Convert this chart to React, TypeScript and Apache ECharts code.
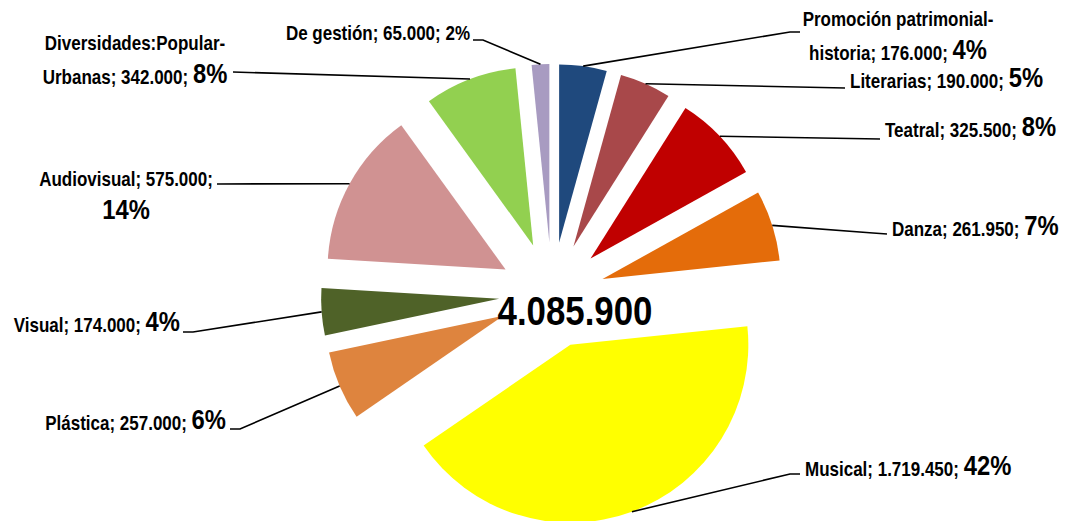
import React, { useEffect, useRef } from 'react';
import * as echarts from 'echarts';

// ---------- data ----------
const categories = [
  'Promoción patrimonial-historia',
  'Literarias',
  'Teatral',
  'Danza',
  'Musical',
  'Plástica',
  'Visual',
  'Audiovisual',
  'Diversidades:Popular-Urbanas',
  'De gestión',
];
const values = [176000, 190000, 325500, 261950, 1719450, 257000, 174000, 575000, 342000, 65000];
const percentLabels = ['4%', '5%', '8%', '7%', '42%', '6%', '4%', '14%', '8%', '2%'];
const colors = ['#1F497D', '#A8484A', '#C00000', '#E46C0A', '#FFFF00', '#DE843E', '#4F6228', '#D09292', '#92D050', '#A89BC1'];

// ---------- layout ----------
const CX = 552;
const CY = 295;
const R = 178;
const OFFSET = 53;
const FONT = "'Liberation Sans', Arial, sans-serif";
const NARROW = 0.85;

type Anchor = {
  x: number; y: number; align: 'left' | 'right' | 'center';
  elbow: [number, number]; end: [number, number];
  pctNewLine?: boolean; pctSmall?: boolean;
};
const anchors: Anchor[] = [
  { x: 898, y: 32, align: 'center', elbow: [790, 32], end: [800, 32] },
  { x: 850, y: 74, align: 'left', elbow: [845, 88], end: [845, 88] },
  { x: 885, y: 123, align: 'left', elbow: [880, 139], end: [880, 139] },
  { x: 892, y: 222, align: 'left', elbow: [873, 233], end: [887, 234] },
  { x: 805, y: 462, align: 'left', elbow: [790, 474], end: [800, 474] },
  { x: 226, y: 416, align: 'right', elbow: [240, 429], end: [230, 429] },
  { x: 180, y: 318, align: 'right', elbow: [193, 332], end: [183, 332] },
  { x: 126, y: 192, align: 'center', elbow: [217, 184], end: [217, 184], pctNewLine: true },
  { x: 135, y: 56, align: 'center', elbow: [233, 72], end: [233, 72] },
  { x: 470, y: 29, align: 'right', elbow: [483, 40], end: [473, 40], pctSmall: true },
];

const fmt = (n: number) => n.toString().replace(/\B(?=(\d{3})+(?!\d))/g, '.');

const rich = {
  a: { fontSize: 20, fontWeight: 'bold', fontFamily: FONT, fill: '#000', lineHeight: 28, verticalAlign: 'bottom' },
  b: { fontSize: 28, fontWeight: 'bold', fontFamily: FONT, fill: '#000', lineHeight: 34, verticalAlign: 'bottom' },
};

function labelText(i: number) {
  const a = anchors[i];
  const name = categories[i];
  const num = fmt(values[i]);
  const pct = percentLabels[i];
  const big = a.pctSmall ? 'a' : 'b';
  let head = '';
  let last = name;
  const k = name.indexOf('-');
  if (k >= 0) {
    head = `{a|${name.slice(0, k + 1)}}\n`;
    last = name.slice(k + 1);
  }
  if (a.pctNewLine) return `${head}{a|${last}; ${num};}\n{${big}|${pct}}`;
  return `${head}{a|${last}; ${num}; }{${big}|${pct}}`;
}

export default function App() {
  const ref = useRef<HTMLDivElement>(null);

  useEffect(() => {
    if (!ref.current) return;
    const chart = echarts.init(ref.current, undefined, { renderer: 'svg' });
    const total = values.reduce((a, b) => a + b, 0);
    let acc = 0;
    const mids = values.map((v) => {
      const m = ((acc + v / 2) / total) * 2 * Math.PI;
      acc += v;
      return m;
    });

    const labelEls: any[] = [];
    categories.forEach((_, i) => {
      const a = anchors[i];
      const m = mids[i];
      const s = [CX + (R + OFFSET) * Math.sin(m), CY - (R + OFFSET) * Math.cos(m)];
      labelEls.push({
        type: 'polyline',
        z: 50,
        shape: { points: [s, a.elbow, a.end] },
        style: { stroke: '#000', lineWidth: 1.6, fill: null },
      });
      labelEls.push({
        type: 'text',
        x: a.x,
        y: a.y,
        scaleX: NARROW,
        z: 60,
        style: {
          text: labelText(i),
          rich,
          align: a.align,
          verticalAlign: 'middle',
          fontFamily: FONT,
          fontWeight: 'bold',
          fill: '#000',
        },
      });
    });

    chart.setOption({
      animation: false,
      backgroundColor: '#ffffff',
      graphic: [
        ...labelEls,
        {
          type: 'text',
          x: 575,
          y: 311,
          z: 100,
          scaleX: NARROW,
          style: {
            text: fmt(total),
            fontSize: 41,
            fontWeight: 'bold',
            fontFamily: FONT,
            fill: '#000',
            align: 'center',
            verticalAlign: 'middle',
          },
        },
      ],
      series: [
        {
          type: 'pie',
          center: [CX, CY],
          radius: R,
          startAngle: 90,
          clockwise: true,
          selectedMode: 'multiple',
          selectedOffset: OFFSET,
          silent: true,
          emphasis: { disabled: true },
          label: { show: false },
          labelLine: { show: false },
          data: categories.map((n, i) => ({
            name: n,
            value: values[i],
            selected: true,
            itemStyle: { color: colors[i] },
          })),
        },
      ],
    });
    return () => chart.dispose();
  }, []);

  return (
    <div
      ref={ref}
      style={{ position: 'fixed', left: 0, top: 0, width: 1084, height: 521, background: '#fff' }}
    />
  );
}
